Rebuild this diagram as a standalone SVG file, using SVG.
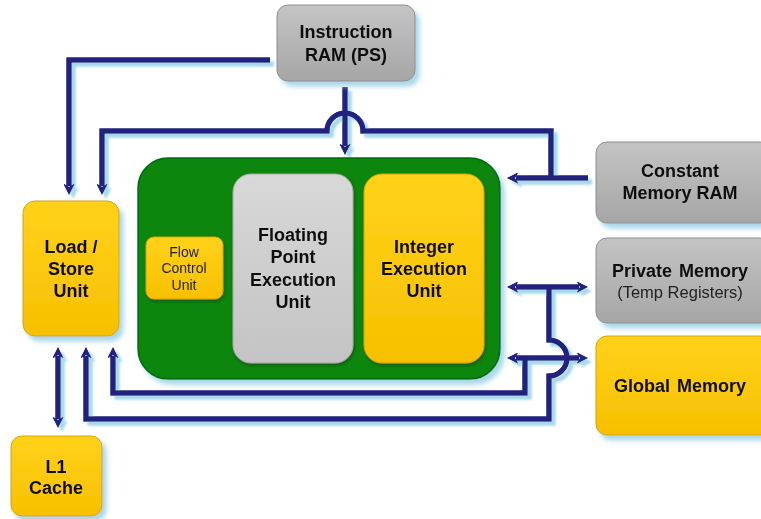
<svg xmlns="http://www.w3.org/2000/svg" width="761" height="519" viewBox="0 0 761 519">
<style>
.t{font-family:"Liberation Sans",Arial,sans-serif;font-weight:bold;font-size:18px;fill:#111;text-anchor:middle}
.s{font-family:"Liberation Sans",Arial,sans-serif;font-size:14px;fill:#222;text-anchor:middle}
.gray{fill:url(#gGray);stroke:#8e8e8e;stroke-width:1}
.yel{fill:url(#gYel);stroke:#d9a300;stroke-width:1}
.tube{fill:none;stroke:#22227e;stroke-width:5}
.hl{fill:none;stroke:#5656cc;stroke-width:1.5}
</style>
<defs>
<linearGradient id="gGray" x1="0" y1="0" x2="0" y2="1"><stop offset="0" stop-color="#c4c4c4"/><stop offset="1" stop-color="#a6a6a6"/></linearGradient>
<linearGradient id="gLight" x1="0" y1="0" x2="0" y2="1"><stop offset="0" stop-color="#d8d8d8"/><stop offset="1" stop-color="#c4c4c4"/></linearGradient>
<linearGradient id="gYel" x1="0" y1="0" x2="0" y2="1"><stop offset="0" stop-color="#ffd21a"/><stop offset="1" stop-color="#f7c000"/></linearGradient>
<filter id="sh" x="-10%" y="-10%" width="130%" height="130%"><feDropShadow dx="4" dy="5" stdDeviation="2.5" flood-color="#9fd3e6" flood-opacity="0.9"/></filter>
<filter id="lsh" x="-10%" y="-10%" width="130%" height="130%"><feDropShadow dx="4" dy="4" stdDeviation="1.2" flood-color="#a6d8ea" flood-opacity="1"/></filter>
<filter id="in" x="-10%" y="-10%" width="130%" height="130%"><feDropShadow dx="1" dy="2" stdDeviation="1.5" flood-color="#0a4a0a" flood-opacity="0.7"/></filter>
<marker id="ah" viewBox="0 0 10 10" refX="2" refY="5" markerWidth="11" markerHeight="11" markerUnits="userSpaceOnUse" orient="auto-start-reverse"><path d="M0,0 L10,5 L0,10 L3,5 z" fill="#22227e"/></marker>
</defs>

<g id="connectors" filter="url(#lsh)">
<path id="c1" class="tube" d="M270 60 H69 V186" marker-end="url(#ah)"/>
<path id="c2" class="tube" d="M551 178 V131 H363 A18 18 0 0 0 327 131 H102 V186" marker-end="url(#ah)"/>
<path id="c3" class="tube" d="M588 178 H516" marker-end="url(#ah)"/>
<path id="c4" class="tube" d="M345 87 V146" marker-end="url(#ah)"/>
<path id="c5" class="tube" d="M516 287 H579" marker-start="url(#ah)" marker-end="url(#ah)"/>
<path id="c6" class="tube" d="M549 287 V340 A18 18 0 0 1 549 376 V419 H86 V356" marker-end="url(#ah)"/>
<path id="c7" class="tube" d="M516 358 H579" marker-start="url(#ah)" marker-end="url(#ah)"/>
<path id="c8" class="tube" d="M525 358 V393 H113 V356" marker-end="url(#ah)"/>
<path id="c9" class="tube" d="M58 356 V419" marker-start="url(#ah)" marker-end="url(#ah)"/>
<use href="#c1" class="hl"/>
<use href="#c2" class="hl"/>
<use href="#c3" class="hl"/>
<use href="#c4" class="hl"/>
<use href="#c5" class="hl"/>
<use href="#c6" class="hl"/>
<use href="#c7" class="hl"/>
<use href="#c8" class="hl"/>
<use href="#c9" class="hl"/>
</g>

<g id="instruction-ram" filter="url(#sh)">
<rect class="gray" x="277" y="5" width="138" height="76" rx="11"/>
<text class="t" x="346" y="38">Instruction</text>
<text class="t" x="346" y="61">RAM (PS)</text>
</g>

<g id="constant-memory" filter="url(#sh)">
<rect class="gray" x="596" y="142" width="175" height="81" rx="11"/>
<text class="t" x="680" y="177">Constant</text>
<text class="t" x="680" y="199">Memory RAM</text>
</g>

<g id="private-memory" filter="url(#sh)">
<rect class="gray" x="596" y="238" width="175" height="85" rx="11"/>
<text class="t" x="680" y="277" style="word-spacing:2px">Private Memory</text>
<text class="s" x="680" y="298" style="font-size:16.5px">(Temp Registers)</text>
</g>

<g id="global-memory" filter="url(#sh)">
<rect class="yel" x="596" y="336" width="175" height="99" rx="11"/>
<text class="t" x="680" y="392" style="word-spacing:2px">Global Memory</text>
</g>

<g id="load-store" filter="url(#sh)">
<rect class="yel" x="23" y="201" width="96" height="135" rx="12"/>
<text class="t" x="71" y="253">Load /</text>
<text class="t" x="71" y="275">Store</text>
<text class="t" x="71" y="297">Unit</text>
</g>

<g id="l1-cache" filter="url(#sh)">
<rect class="yel" x="11" y="436" width="91" height="80" rx="11"/>
<text class="t" x="56" y="473">L1</text>
<text class="t" x="56" y="494">Cache</text>
</g>

<g id="compute-core" filter="url(#sh)">
<rect x="138" y="158" width="362" height="221" rx="30" fill="#07860b" stroke="#066a08" stroke-width="1.5"/>
</g>

<g id="flow-control" filter="url(#in)">
<rect class="yel" x="146" y="237" width="77" height="62" rx="8"/>
<text class="s" x="184" y="257">Flow</text>
<text class="s" x="184" y="273">Control</text>
<text class="s" x="184" y="290">Unit</text>
</g>

<g id="floating-point" filter="url(#in)">
<rect x="233" y="174" width="120" height="189" rx="18" fill="url(#gLight)" stroke="#a8a8a8" stroke-width="1"/>
<text class="t" x="293" y="241">Floating</text>
<text class="t" x="293" y="263">Point</text>
<text class="t" x="293" y="286">Execution</text>
<text class="t" x="293" y="308">Unit</text>
</g>

<g id="integer" filter="url(#in)">
<rect class="yel" x="364" y="174" width="120" height="189" rx="18"/>
<text class="t" x="424" y="253">Integer</text>
<text class="t" x="424" y="275">Execution</text>
<text class="t" x="424" y="297">Unit</text>
</g>
</svg>
